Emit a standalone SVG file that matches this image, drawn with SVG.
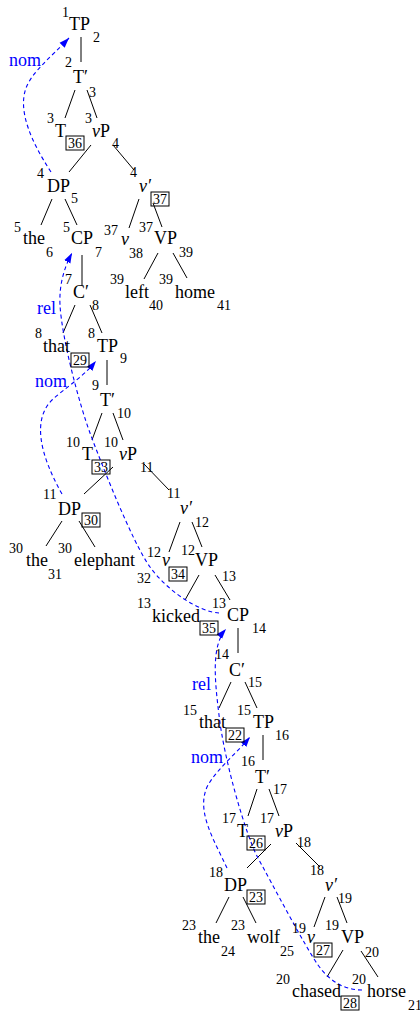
<svg xmlns="http://www.w3.org/2000/svg" width="420" height="1013" viewBox="0 0 420 1013">
<defs>
<style>
.l{font-family:"Liberation Serif",serif;font-size:18px;fill:#000}
.n{font-family:"Liberation Serif",serif;font-size:14px;fill:#000}
.bt{font-family:"Liberation Serif",serif;font-size:14px;fill:#000;text-anchor:middle}
.bx{fill:none;stroke:#000;stroke-width:1}
.e{stroke:#000;stroke-width:1;fill:none}
.mv{stroke:#0000ff;stroke-width:1.1;fill:none;stroke-dasharray:4 3;marker-end:url(#ah)}
.ml{font-family:"Liberation Serif",serif;font-size:18px;fill:#0000ff}
.i{font-style:italic}
</style>
<marker id="ah" markerUnits="userSpaceOnUse" markerWidth="11" markerHeight="8" refX="10" refY="4" orient="auto">
<path d="M0,0.5 L10,4 L0,7.5 Z" fill="#0000ff"/>
</marker>
</defs>
<rect width="420" height="1013" fill="#fff"/>

<g id="connectors">
<line class="e" x1="81" y1="37" x2="81" y2="62"/>
<line class="e" x1="75" y1="90" x2="65" y2="118"/>
<line class="e" x1="87" y1="90" x2="97" y2="118"/>
<line class="e" x1="91" y1="145" x2="69" y2="172"/>
<line class="e" x1="113" y1="145" x2="134" y2="170"/>
<line class="e" x1="52" y1="199" x2="41" y2="225"/>
<line class="e" x1="65" y1="199" x2="77" y2="225"/>
<line class="e" x1="139" y1="199" x2="129" y2="228"/>
<line class="e" x1="153" y1="203" x2="162" y2="227"/>
<line class="e" x1="158" y1="253" x2="144" y2="279"/>
<line class="e" x1="173" y1="253" x2="187" y2="278"/>
<line class="e" x1="82" y1="255" x2="82" y2="286"/>
<line class="e" x1="75" y1="305" x2="63" y2="333"/>
<line class="e" x1="90" y1="305" x2="102" y2="333"/>
<line class="e" x1="107" y1="360" x2="107" y2="385"/>
<line class="e" x1="102" y1="413" x2="92" y2="440"/>
<line class="e" x1="113" y1="413" x2="123" y2="440"/>
<line class="e" x1="113" y1="467" x2="84" y2="494"/>
<line class="e" x1="144" y1="464" x2="169" y2="490"/>
<line class="e" x1="62" y1="521" x2="46" y2="546"/>
<line class="e" x1="79" y1="521" x2="95" y2="547"/>
<line class="e" x1="180" y1="522" x2="169" y2="552"/>
<line class="e" x1="192" y1="522" x2="202" y2="547"/>
<line class="e" x1="199" y1="575" x2="185" y2="600"/>
<line class="e" x1="215" y1="575" x2="230" y2="600"/>
<line class="e" x1="238" y1="628" x2="238" y2="653"/>
<line class="e" x1="231" y1="682" x2="219" y2="708"/>
<line class="e" x1="245" y1="682" x2="257" y2="708"/>
<line class="e" x1="263" y1="735" x2="263" y2="760"/>
<line class="e" x1="257" y1="789" x2="248" y2="816"/>
<line class="e" x1="269" y1="789" x2="279" y2="816"/>
<line class="e" x1="271" y1="844" x2="247" y2="868"/>
<line class="e" x1="296" y1="843" x2="320" y2="867"/>
<line class="e" x1="229" y1="897" x2="216" y2="923"/>
<line class="e" x1="243" y1="897" x2="256" y2="923"/>
<line class="e" x1="325" y1="897" x2="314" y2="927"/>
<line class="e" x1="337" y1="897" x2="347" y2="923"/>
<line class="e" x1="343" y1="950" x2="327" y2="977"/>
<line class="e" x1="361" y1="951" x2="378" y2="977"/>

<path class="mv" d="M51,172 C30,140 18,110 26,88 C32,72 50,58 69,38"/>
<path class="mv" d="M219,613 C200,612 168,592 150,567 S100,460 90,433 S62,340 60,305 C59,285 64,268 72,253"/>
<path class="mv" d="M62,494 C40,455 32,420 52,400 C65,388 82,378 96,361"/>
<path class="mv" d="M362,990 C345,990 330,982 318,965 S270,880 258,858 S224,760 219,715 C214,675 212,645 226,629"/>
<path class="mv" d="M227,868 C214,840 195,810 208,785 C218,768 235,755 250,737"/>
<text class="ml" x="9" y="66">nom</text>
<text class="ml" x="37" y="314">rel</text>
<text class="ml" x="35" y="387">nom</text>
<text class="ml" x="192" y="690">rel</text>
<text class="ml" x="191" y="763">nom</text>
</g>

<g id="n1"><text class="n" x="62" y="17">1</text><text class="l" x="69" y="30">TP</text><text class="n" x="93" y="42">2</text></g>
<g id="n2"><text class="n" x="65" y="67">2</text><text class="l" x="73" y="83">T′</text><text class="n" x="89" y="97">3</text></g>
<g id="n3"><text class="n" x="47" y="123">3</text><text class="l" x="55" y="137">T</text><rect class="bx" x="66" y="136" width="18" height="14"/><text class="bt" x="75" y="148">36</text></g>
<g id="n4"><text class="n" x="85" y="123">3</text><text class="l" x="92" y="137"><tspan class="i">v</tspan>P</text><text class="n" x="112" y="148">4</text></g>
<g id="n5"><text class="n" x="37" y="178">4</text><text class="l" x="47" y="192">DP</text><text class="n" x="71" y="203">5</text></g>
<g id="n6"><text class="n" x="130" y="177">4</text><text class="l i" x="139" y="192">v′</text><rect class="bx" x="151" y="192" width="18" height="14"/><text class="bt" x="160" y="204">37</text></g>
<g id="n7"><text class="n" x="14" y="232">5</text><text class="l" x="23" y="244">the</text><text class="n" x="46" y="257">6</text></g>
<g id="n8"><text class="n" x="63" y="232">5</text><text class="l" x="71" y="244">CP</text><text class="n" x="95" y="257">7</text></g>
<g id="n9"><text class="n" x="104" y="235">37</text><text class="l i" x="121" y="245">v</text><text class="n" x="129" y="258">38</text></g>
<g id="n10"><text class="n" x="139" y="232">37</text><text class="l" x="154" y="244">VP</text><text class="n" x="179" y="257">39</text></g>
<g id="n11"><text class="n" x="110" y="284">39</text><text class="l" x="125" y="298">left</text><text class="n" x="149" y="310">40</text></g>
<g id="n12"><text class="n" x="159" y="284">39</text><text class="l" x="175" y="298">home</text><text class="n" x="217" y="310">41</text></g>
<g id="n13"><text class="n" x="65" y="284">7</text><text class="l" x="73" y="298">C′</text><text class="n" x="92" y="310">8</text></g>
<g id="n14"><text class="n" x="35" y="338">8</text><text class="l" x="43" y="352">that</text><rect class="bx" x="71" y="353" width="18" height="14"/><text class="bt" x="80" y="365">29</text></g>
<g id="n15"><text class="n" x="88" y="338">8</text><text class="l" x="97" y="352">TP</text><text class="n" x="120" y="363">9</text></g>
<g id="n16"><text class="n" x="92" y="390">9</text><text class="l" x="100" y="406">T′</text><text class="n" x="117" y="418">10</text></g>
<g id="n17"><text class="n" x="66" y="447">10</text><text class="l" x="82" y="460">T</text><rect class="bx" x="92" y="460" width="18" height="14"/><text class="bt" x="101" y="472">33</text></g>
<g id="n18"><text class="n" x="104" y="447">10</text><text class="l" x="119" y="460"><tspan class="i">v</tspan>P</text><text class="n" x="140" y="472">11</text></g>
<g id="n19"><text class="n" x="43" y="499">11</text><text class="l" x="58" y="515">DP</text><rect class="bx" x="82" y="513" width="18" height="14"/><text class="bt" x="91" y="525">30</text></g>
<g id="n20"><text class="n" x="167" y="498">11</text><text class="l i" x="180" y="514">v′</text><text class="n" x="195" y="527">12</text></g>
<g id="n21"><text class="n" x="9" y="553">30</text><text class="l" x="26" y="566">the</text><text class="n" x="48" y="579">31</text></g>
<g id="n22"><text class="n" x="58" y="553">30</text><text class="l" x="74" y="566">elephant</text><text class="n" x="137" y="583">32</text></g>
<g id="n23"><text class="n" x="147" y="557">12</text><text class="l i" x="162" y="566">v</text><rect class="bx" x="169" y="567" width="18" height="14"/><text class="bt" x="178" y="579">34</text></g>
<g id="n24"><text class="n" x="181" y="555">12</text><text class="l" x="195" y="566">VP</text><text class="n" x="222" y="581">13</text></g>
<g id="n25"><text class="n" x="137" y="608">13</text><text class="l" x="152" y="622">kicked</text><rect class="bx" x="200" y="621" width="18" height="14"/><text class="bt" x="209" y="633">35</text></g>
<g id="n26"><text class="n" x="212" y="608">13</text><text class="l" x="227" y="621">CP</text><text class="n" x="252" y="633">14</text></g>
<g id="n27"><text class="n" x="215" y="659">14</text><text class="l" x="229" y="676">C′</text><text class="n" x="248" y="687">15</text></g>
<g id="n28"><text class="n" x="183" y="715">15</text><text class="l" x="199" y="728">that</text><rect class="bx" x="226" y="728" width="18" height="14"/><text class="bt" x="235" y="740">22</text></g>
<g id="n29"><text class="n" x="237" y="715">15</text><text class="l" x="253" y="728">TP</text><text class="n" x="275" y="740">16</text></g>
<g id="n30"><text class="n" x="241" y="766">16</text><text class="l" x="255" y="783">T′</text><text class="n" x="273" y="794">17</text></g>
<g id="n31"><text class="n" x="222" y="823">17</text><text class="l" x="237" y="837">T</text><rect class="bx" x="247" y="836" width="18" height="14"/><text class="bt" x="256" y="848">26</text></g>
<g id="n32"><text class="n" x="260" y="823">17</text><text class="l" x="275" y="837"><tspan class="i">v</tspan>P</text><text class="n" x="297" y="847">18</text></g>
<g id="n33"><text class="n" x="209" y="877">18</text><text class="l" x="224" y="891">DP</text><rect class="bx" x="247" y="890" width="18" height="14"/><text class="bt" x="256" y="902">23</text></g>
<g id="n34"><text class="n" x="310" y="875">18</text><text class="l i" x="325" y="891">v′</text><text class="n" x="338" y="903">19</text></g>
<g id="n35"><text class="n" x="182" y="930">23</text><text class="l" x="198" y="943">the</text><text class="n" x="221" y="956">24</text></g>
<g id="n36"><text class="n" x="231" y="930">23</text><text class="l" x="247" y="943">wolf</text><text class="n" x="280" y="956">25</text></g>
<g id="n37"><text class="n" x="292" y="933">19</text><text class="l i" x="307" y="943">v</text><rect class="bx" x="314" y="943" width="18" height="14"/><text class="bt" x="323" y="955">27</text></g>
<g id="n38"><text class="n" x="325" y="930">19</text><text class="l" x="341" y="943">VP</text><text class="n" x="365" y="957">20</text></g>
<g id="n39"><text class="n" x="276" y="984">20</text><text class="l" x="292" y="997">chased</text><rect class="bx" x="341" y="996" width="18" height="14"/><text class="bt" x="350" y="1008">28</text></g>
<g id="n40"><text class="n" x="352" y="984">20</text><text class="l" x="367" y="997">horse</text><text class="n" x="408" y="1010">21</text></g>
</svg>
